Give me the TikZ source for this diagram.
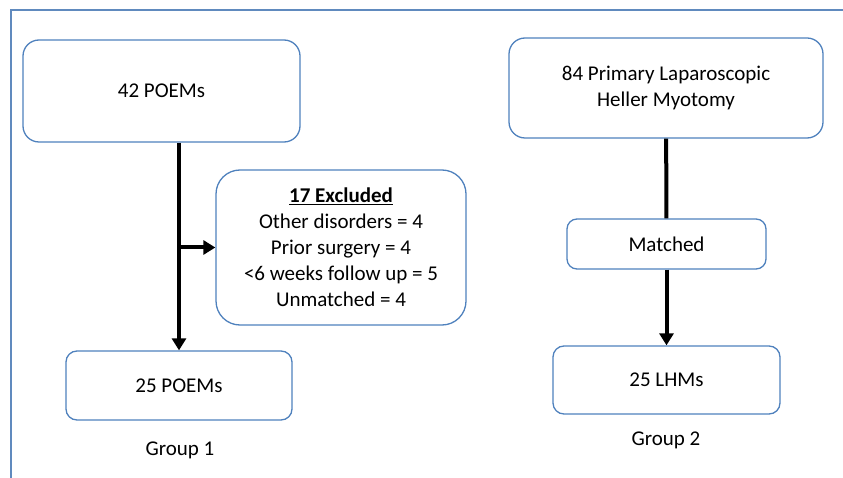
\documentclass[tikz,border=0pt]{standalone}
\usepackage{fontspec}
\setmainfont{Carlito}
\usetikzlibrary{arrows.meta,positioning}
\definecolor{boxblue}{RGB}{79,129,189}
\definecolor{frameblue}{RGB}{96,138,190}

\begin{document}
\begin{tikzpicture}[x=1pt,y=-1pt,
  every node/.style={font=\fontsize{21}{26}\selectfont},
  bx/.style={draw=boxblue,line width=1.3pt,align=center,inner sep=0pt},
  ar/.style={-{Triangle[length=12pt,width=14pt]},line width=4pt},
  ln/.style={line width=4pt}]
\clip (0,0) rectangle (843,478);
\draw[frameblue,line width=1.3pt] (11,10) rectangle (900,520);
\node[bx,rounded corners=16pt,minimum width=277pt,minimum height=102pt] (poem42) at (161.5,91) {42 POEMs};
\node[bx,rounded corners=24pt,minimum width=250pt,minimum height=155pt] (excl) at (341,247.5)
  {\textbf{\underline{17 Excluded}}\\Other disorders = 4\\Prior surgery = 4\\<6 weeks follow up = 5\\Unmatched = 4};
\node[bx,rounded corners=11pt,minimum width=226pt,minimum height=69pt] (poem25) at (179,385.5) {25 POEMs};
\node (grp1) at (180,450) {Group 1};
\node[bx,rounded corners=16pt,minimum width=314pt,minimum height=100pt] (lhm84) at (666,88) {84 Primary Laparoscopic\\Heller Myotomy};
\node[bx,rounded corners=10pt,minimum width=199pt,minimum height=50pt] (match) at (666.5,244) {Matched};
\node[bx,rounded corners=11pt,minimum width=227pt,minimum height=68pt] (lhm25) at (666.5,380) {25 LHMs};
\node (grp2) at (666,440) {Group 2};
\draw[ar] (poem42.south -| poem25) -- (poem25.north);
\draw[ar] (excl.west -| poem25) -- (excl.west);
\draw[ln] (lhm84) -- (match);
\draw[ar] (match) -- (lhm25);
\end{tikzpicture}
\end{document}
